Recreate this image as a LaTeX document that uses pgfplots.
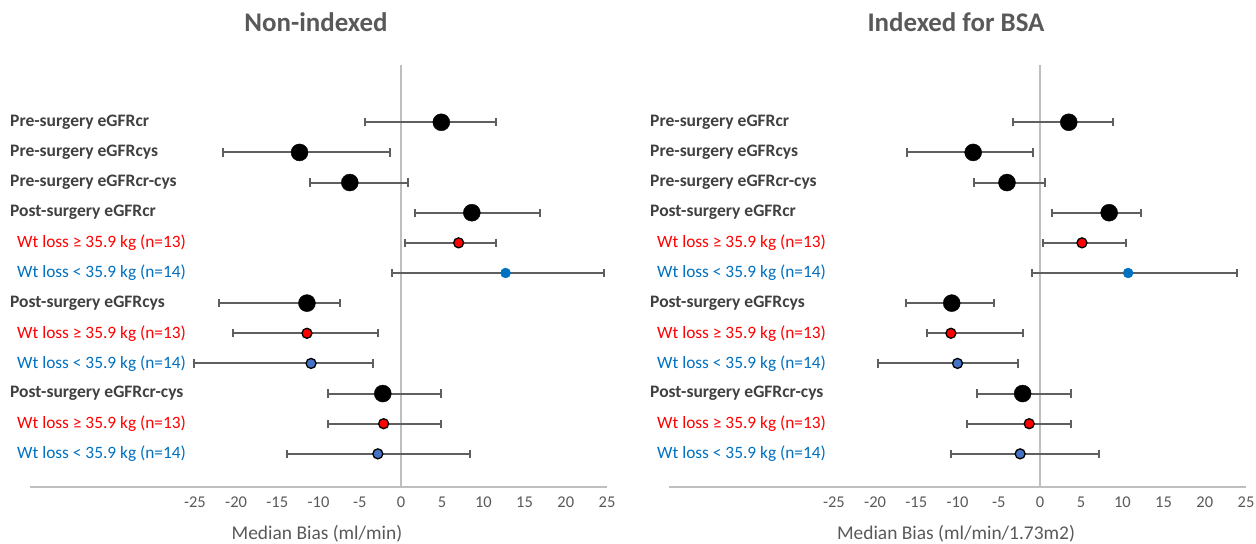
\documentclass[border=0pt]{standalone}
\usepackage{pgfplots}
\pgfplotsset{compat=1.18}
\usepackage{pgfplotstable}
\usepackage{fontspec}
\setmainfont{Carlito}
\definecolor{lbl}{HTML}{404040}
\definecolor{ttl}{HTML}{595959}
\definecolor{axl}{HTML}{BFBFBF}
\definecolor{ebar}{HTML}{5F5F5F}
\definecolor{myred}{HTML}{FF0000}
\definecolor{mblue}{HTML}{0070C0}
\definecolor{dblue}{HTML}{4472C4}

% row  median  low  high
\pgfplotstableread{
y x lo hi
1 4.9 -4.4 11.5
2 -12.3 -21.6 -1.3
3 -6.2 -11.0 0.9
4 8.6 1.7 16.9
7 -11.4 -22.1 -7.4
10 -2.2 -8.9 4.9
}\Lblack
\pgfplotstableread{
y x lo hi
5 7.0 0.5 11.5
8 -11.4 -20.4 -2.8
11 -2.1 -8.9 4.9
}\Lred
\pgfplotstableread{
y x lo hi
6 12.7 -1.1 24.6
}\Lblue
\pgfplotstableread{
y x lo hi
9 -10.9 -25.1 -3.4
12 -2.8 -13.8 8.4
}\Ldblue

\pgfplotstableread{
y x lo hi
1 3.5 -3.3 8.9
2 -8.1 -16.1 -0.8
3 -4.0 -8.0 0.6
4 8.4 1.5 12.3
7 -10.7 -16.3 -5.6
10 -2.1 -7.6 3.8
}\Rblack
\pgfplotstableread{
y x lo hi
5 5.1 0.4 10.4
8 -10.8 -13.7 -2.1
11 -1.3 -8.9 3.8
}\Rred
\pgfplotstableread{
y x lo hi
6 10.7 -1.0 23.9
}\Rblue
\pgfplotstableread{
y x lo hi
9 -10.0 -19.7 -2.7
12 -2.4 -10.8 7.2
}\Rdblue

\pgfplotsset{
  forest/.style={
    anchor=south west, scale only axis, width=577bp, height=422bp,
    xmin=-45, xmax=25, ymin=-0.9, ymax=13.1, y dir=reverse,
    axis x line*=bottom, axis y line=none,
    x axis line style={draw=axl, line width=1.3bp},
    xtick={-25,-20,-15,-10,-5,0,5,10,15,20,25},
    xticklabels={-25,-20,-15,-10,-5,0,5,10,15,20,25},
    major tick length=0pt,
    xticklabel style={font=\fontsize{16.5}{19}\selectfont, text=ttl, yshift=-6bp},
    ytick=\empty, clip=false,
  },
  ebars/.style={draw=none, mark=none, forget plot,
    error bars/.cd, x dir=both, x explicit,
    error bar style={line width=2bp, draw=ebar},
    error mark options={line width=2bp, draw=ebar, mark size=4.2bp, rotate=90}},
  bigdot/.style={only marks, mark=*, mark size=8.5bp, mark options={fill=black, draw=black}},
  reddot/.style={only marks, mark=*, mark size=5bp, mark options={fill=myred, draw=black, line width=1.3bp}},
  bluedot/.style={only marks, mark=*, mark size=5bp, mark options={fill=mblue, draw=mblue}},
  dbluedot/.style={only marks, mark=*, mark size=5bp, mark options={fill=dblue, draw=black, line width=1.3bp}},
}
\tikzset{
  lb/.style={anchor=west, inner sep=0pt, font=\fontsize{17.6}{20}\selectfont\bfseries, text=lbl},
  lr/.style={anchor=west, inner sep=0pt, font=\fontsize{17.4}{20}\selectfont, text=myred},
  lu/.style={anchor=west, inner sep=0pt, font=\fontsize{17.4}{20}\selectfont, text=mblue},
}

\newcommand{\rowlabels}[2]{%
  \node[lb] at ([xshift=#1]axis cs:-45,1) {Pre-surgery eGFRcr};
  \node[lb] at ([xshift=#1]axis cs:-45,2) {Pre-surgery eGFRcys};
  \node[lb] at ([xshift=#1]axis cs:-45,3) {Pre-surgery eGFRcr-cys};
  \node[lb] at ([xshift=#1]axis cs:-45,4) {Post-surgery eGFRcr};
  \node[lr] at ([xshift=#2]axis cs:-45,5) {Wt loss ≥ 35.9 kg (n=13)};
  \node[lu] at ([xshift=#2]axis cs:-45,6) {Wt loss < 35.9 kg (n=14)};
  \node[lb] at ([xshift=#1]axis cs:-45,7) {Post-surgery eGFRcys};
  \node[lr] at ([xshift=#2]axis cs:-45,8) {Wt loss ≥ 35.9 kg (n=13)};
  \node[lu] at ([xshift=#2]axis cs:-45,9) {Wt loss < 35.9 kg (n=14)};
  \node[lb] at ([xshift=#1]axis cs:-45,10) {Post-surgery eGFRcr-cys};
  \node[lr] at ([xshift=#2]axis cs:-45,11) {Wt loss ≥ 35.9 kg (n=13)};
  \node[lu] at ([xshift=#2]axis cs:-45,12) {Wt loss < 35.9 kg (n=14)};
}

\begin{document}
\begin{tikzpicture}
\useasboundingbox (0,0) rectangle (1256bp,544bp);

% ---------- Left panel ----------
\begin{axis}[forest, at={(30bp,57bp)}]
  \addplot[draw=axl, line width=1.3bp, forget plot] coordinates {(0,-0.9) (0,13.1)};
  \addplot[ebars] table[x=x, y=y, x error plus expr=\thisrow{hi}-\thisrow{x}, x error minus expr=\thisrow{x}-\thisrow{lo}] {\Lblack};
  \addplot[ebars] table[x=x, y=y, x error plus expr=\thisrow{hi}-\thisrow{x}, x error minus expr=\thisrow{x}-\thisrow{lo}] {\Lred};
  \addplot[ebars] table[x=x, y=y, x error plus expr=\thisrow{hi}-\thisrow{x}, x error minus expr=\thisrow{x}-\thisrow{lo}] {\Lblue};
  \addplot[ebars] table[x=x, y=y, x error plus expr=\thisrow{hi}-\thisrow{x}, x error minus expr=\thisrow{x}-\thisrow{lo}] {\Ldblue};
  \addplot[bigdot] table[x=x,y=y] {\Lblack};
  \addplot[reddot] table[x=x,y=y] {\Lred};
  \addplot[bluedot] table[x=x,y=y] {\Lblue};
  \addplot[dbluedot] table[x=x,y=y] {\Ldblue};
  \rowlabels{-20bp}{-13bp}
\end{axis}

% ---------- Right panel ----------
\begin{axis}[forest, at={(669bp,57bp)}]
  \addplot[draw=axl, line width=1.3bp, forget plot] coordinates {(0,-0.9) (0,13.1)};
  \addplot[ebars] table[x=x, y=y, x error plus expr=\thisrow{hi}-\thisrow{x}, x error minus expr=\thisrow{x}-\thisrow{lo}] {\Rblack};
  \addplot[ebars] table[x=x, y=y, x error plus expr=\thisrow{hi}-\thisrow{x}, x error minus expr=\thisrow{x}-\thisrow{lo}] {\Rred};
  \addplot[ebars] table[x=x, y=y, x error plus expr=\thisrow{hi}-\thisrow{x}, x error minus expr=\thisrow{x}-\thisrow{lo}] {\Rblue};
  \addplot[ebars] table[x=x, y=y, x error plus expr=\thisrow{hi}-\thisrow{x}, x error minus expr=\thisrow{x}-\thisrow{lo}] {\Rdblue};
  \addplot[bigdot] table[x=x,y=y] {\Rblack};
  \addplot[reddot] table[x=x,y=y] {\Rred};
  \addplot[bluedot] table[x=x,y=y] {\Rblue};
  \addplot[dbluedot] table[x=x,y=y] {\Rdblue};
  \rowlabels{-19bp}{-12bp}
\end{axis}

% titles and axis labels
\node[font=\fontsize{27}{30}\selectfont\bfseries, text=ttl] at (316bp,522bp) {Non-indexed};
\node[font=\fontsize{27}{30}\selectfont\bfseries, text=ttl] at (956bp,522bp) {Indexed for BSA};
\node[font=\fontsize{19.5}{22}\selectfont, text=ttl] at (317bp,10bp) {Median Bias (ml/min)};
\node[font=\fontsize{19.5}{22}\selectfont, text=ttl] at (956bp,10bp) {Median Bias (ml/min/1.73m2)};
\end{tikzpicture}
\end{document}
